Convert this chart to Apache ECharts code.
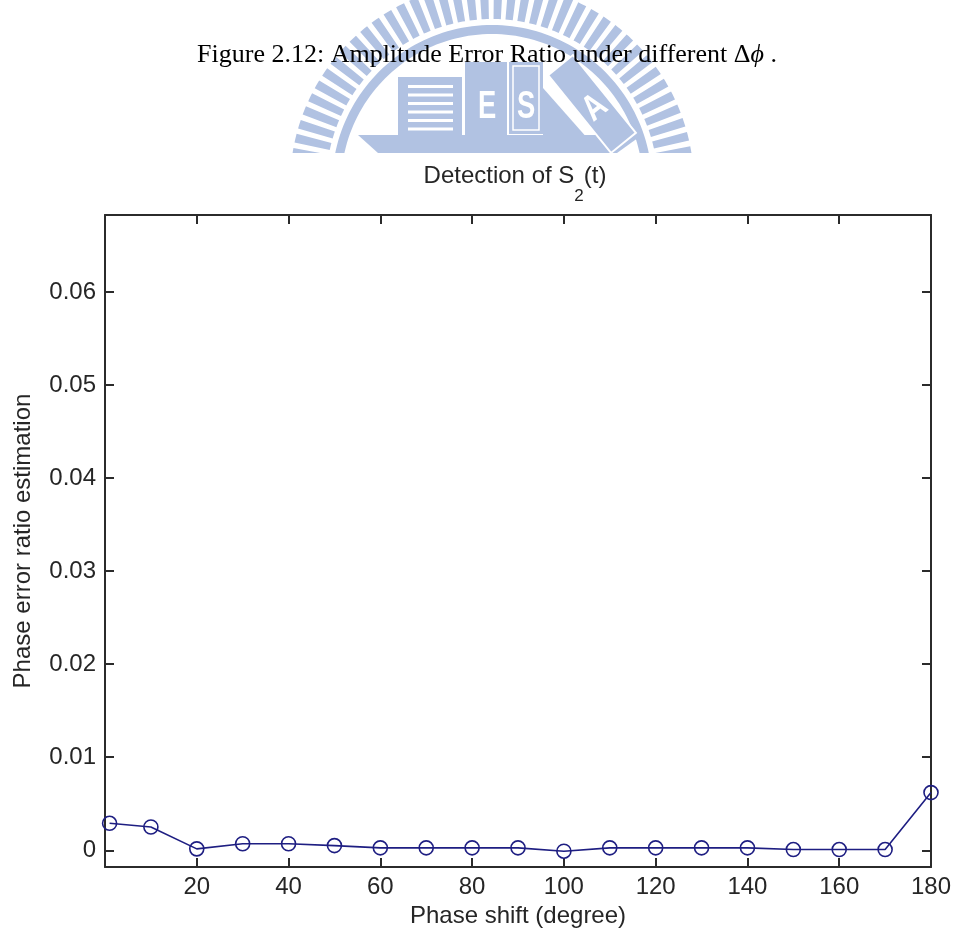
<!DOCTYPE html>
<html>
<head>
<meta charset="utf-8">
<script src="https://cdn.jsdelivr.net/npm/echarts@6/dist/echarts.min.js"></script>
<style>
  html, body { margin: 0; padding: 0; background: #ffffff; }
  #chart { width: 955px; height: 940px; }
</style>
</head>
<body>
<div id="chart"></div>
<script>
// Phase shift (degree) and the estimated phase error ratio at each step
const phaseShift = [1, 10, 20, 30, 40, 50, 60, 70, 80, 90, 100, 110, 120, 130, 140, 150, 160, 170, 180];
const errorRatio = [0.0029, 0.0025, 0.00015, 0.0007, 0.0007, 0.0005, 0.00026, 0.00026, 0.00026, 0.00026,
                    -0.0001, 0.00026, 0.00026, 0.00026, 0.00026, 0.00008, 0.00008, 0.00008, 0.0062];

// Tick positions
const xTicks = [20, 40, 60, 80, 100, 120, 140, 160, 180];
const yTicks = [0, 0.01, 0.02, 0.03, 0.04, 0.05, 0.06];

const axisColor = '#2b2b2b';
const textColor = '#262626';
const lineColor = '#1e1e82';
const sansFont = '"Liberation Sans", Arial, sans-serif';
const serifFont = '"Liberation Serif", "Times New Roman", serif';
const logoBlue = '#b1c2e2';

// ---- watermark emblem (decorative, behind the caption) ----
const emblem = [];
const cx = 492, cy = 185, cutY = 153;

// keep only the part of a polygon that lies above the emblem's lower edge
function clipAbove(points, limit) {
  const out = [];
  for (let i = 0; i < points.length; i++) {
    const a = points[i], b = points[(i + 1) % points.length];
    const aIn = a[1] <= limit, bIn = b[1] <= limit;
    if (aIn) out.push(a);
    if (aIn !== bIn) {
      const t = (limit - a[1]) / (b[1] - a[1]);
      out.push([a[0] + t * (b[0] - a[0]), limit]);
    }
  }
  return out;
}
function arcBand(r0, r1, a0, a1, steps) {
  const pts = [];
  for (let i = 0; i <= steps; i++) {
    const a = a0 + (a1 - a0) * i / steps;
    pts.push([cx + r1 * Math.cos(a), cy + r1 * Math.sin(a)]);
  }
  for (let i = steps; i >= 0; i--) {
    const a = a0 + (a1 - a0) * i / steps;
    pts.push([cx + r0 * Math.cos(a), cy + r0 * Math.sin(a)]);
  }
  return clipAbove(pts, cutY);
}
function addPoly(pts, z) {
  if (pts.length >= 3) {
    emblem.push({ type: 'polygon', silent: true, z: z, shape: { points: pts }, style: { fill: logoBlue } });
  }
}
// radial comb around the arch
for (let a = Math.PI * 0.93; a < Math.PI * 2.07; a += 0.072) {
  addPoly(arcBand(166, 202, a, a + 0.044, 3), 1);
}
// inner solid ring
addPoly(arcBand(151, 160, Math.PI * 0.9, Math.PI * 2.1, 120), 1);
// base
emblem.push({ type: 'polygon', silent: true, z: 1,
  shape: { points: [[358, 135], [642, 135], [617, 153], [378, 153]] }, style: { fill: logoBlue } });
// striped block
emblem.push({ type: 'rect', silent: true, z: 1, shape: { x: 398, y: 77, width: 64, height: 58 }, style: { fill: logoBlue } });
for (let k = 0; k < 6; k++) {
  emblem.push({ type: 'rect', silent: true, z: 2,
    shape: { x: 408, y: 85 + k * 8.5, width: 45, height: 3 }, style: { fill: '#ffffff' } });
}
// "E" block
emblem.push({ type: 'rect', silent: true, z: 1, shape: { x: 465, y: 62, width: 42, height: 73 }, style: { fill: logoBlue } });
emblem.push({ type: 'text', silent: true, z: 2, x: 487, y: 108, scaleX: 0.72,
  style: { text: 'E', fill: '#ffffff', font: 'bold 38px ' + sansFont, align: 'center', verticalAlign: 'middle' } });
// "S" block with inner outline
emblem.push({ type: 'rect', silent: true, z: 1, shape: { x: 509, y: 62, width: 34, height: 72 }, style: { fill: logoBlue } });
emblem.push({ type: 'rect', silent: true, z: 2, shape: { x: 513, y: 66, width: 26, height: 64 },
  style: { fill: 'none', stroke: '#ffffff', lineWidth: 1.5 } });
emblem.push({ type: 'text', silent: true, z: 2, x: 526, y: 108, scaleX: 0.72,
  style: { text: 'S', fill: '#ffffff', font: 'bold 38px ' + sansFont, align: 'center', verticalAlign: 'middle' } });
// wedge under the tilted block
emblem.push({ type: 'polygon', silent: true, z: 1,
  shape: { points: [[543, 88], [596, 148], [543, 148]] }, style: { fill: logoBlue } });
// tilted "A" block
(function () {
  const mx = 592, my = 104, len = 100, wid = 32, ang = 51 * Math.PI / 180;
  const ux = Math.cos(ang), uy = Math.sin(ang), vx = -uy, vy = ux;
  const p = (s, t) => [mx + ux * s + vx * t, my + uy * s + vy * t];
  emblem.push({ type: 'polygon', silent: true, z: 3,
    shape: { points: [p(-len / 2, -wid / 2), p(len / 2, -wid / 2), p(len / 2, wid / 2), p(-len / 2, wid / 2)] },
    style: { fill: logoBlue, stroke: '#ffffff', lineWidth: 2 } });
  emblem.push({ type: 'text', silent: true, z: 4, x: 595, y: 108, rotation: 0.68, scaleX: 0.8,
    style: { text: 'A', fill: '#ffffff', font: 'bold 36px ' + sansFont, align: 'center', verticalAlign: 'middle' } });
})();

// ---- caption and plot title ----
const captionText = {
  type: 'text', silent: true, z: 10, x: 487, y: 55,
  style: {
    text: 'Figure 2.12: Amplitude Error Ratio under different \u0394{i|\u03D5} .',
    font: '26px ' + serifFont, fill: '#000000', align: 'center', verticalAlign: 'middle',
    rich: { i: { fontFamily: serifFont, fontSize: 26, fontStyle: 'italic', fill: '#000000' } }
  }
};
const titleText = {
  type: 'text', silent: true, z: 10, x: 515, y: 176,
  style: {
    text: 'Detection of S{sub|2}(t)',
    font: '24px ' + sansFont, fill: textColor, align: 'center', verticalAlign: 'middle',
    rich: { sub: { fontFamily: sansFont, fontSize: 17, fill: textColor, padding: [40, 0, 0, 0] } }
  }
};

const chart = echarts.init(document.getElementById('chart'), null, { renderer: 'canvas' });

const xMin = 0, xMax = 180;
const yMin = -0.0018, yMax = 0.0683;

function frameAxis(pos, isX, withLabels) {
  const ticks = isX ? xTicks : yTicks;
  return {
    type: 'value',
    position: pos,
    min: isX ? xMin : yMin,
    max: isX ? xMax : yMax,
    axisLine: { show: true, onZero: false, lineStyle: { color: axisColor, width: 2 } },
    axisTick: { show: true, inside: true, length: 9, customValues: ticks, lineStyle: { color: axisColor, width: 2 } },
    axisLabel: withLabels ? {
      show: true, customValues: ticks, margin: isX ? 8 : 9,
      fontSize: 24, fontFamily: sansFont, color: textColor,
      formatter: v => String(v)
    } : { show: false },
    splitLine: { show: false }
  };
}

const xBottom = frameAxis('bottom', true, true);
xBottom.name = 'Phase shift (degree)';
xBottom.nameLocation = 'middle';
xBottom.nameGap = 33;
xBottom.nameTextStyle = { fontSize: 24, fontFamily: sansFont, color: textColor };

const yLeft = frameAxis('left', false, true);
yLeft.name = 'Phase error ratio estimation';
yLeft.nameLocation = 'middle';
yLeft.nameGap = 70;
yLeft.nameTextStyle = { fontSize: 24, fontFamily: sansFont, color: textColor };

const option = {
  animation: false,
  backgroundColor: '#ffffff',
  grid: { left: 105, right: 24, top: 215, bottom: 73, containLabel: false },
  xAxis: [xBottom, frameAxis('top', true, false)],
  yAxis: [yLeft, frameAxis('right', false, false)],
  series: [{
    type: 'line',
    xAxisIndex: 0,
    yAxisIndex: 0,
    data: phaseShift.map((x, i) => [x, errorRatio[i]]),
    symbol: 'circle',
    symbolSize: 14,
    showAllSymbol: true,
    clip: false,
    lineStyle: { color: lineColor, width: 1.6 },
    itemStyle: { color: 'rgba(0,0,0,0)', borderColor: lineColor, borderWidth: 1.6 },
    emphasis: { disabled: true }
  }],
  graphic: emblem.concat([captionText, titleText])
};

chart.setOption(option);
</script>
</body>
</html>
